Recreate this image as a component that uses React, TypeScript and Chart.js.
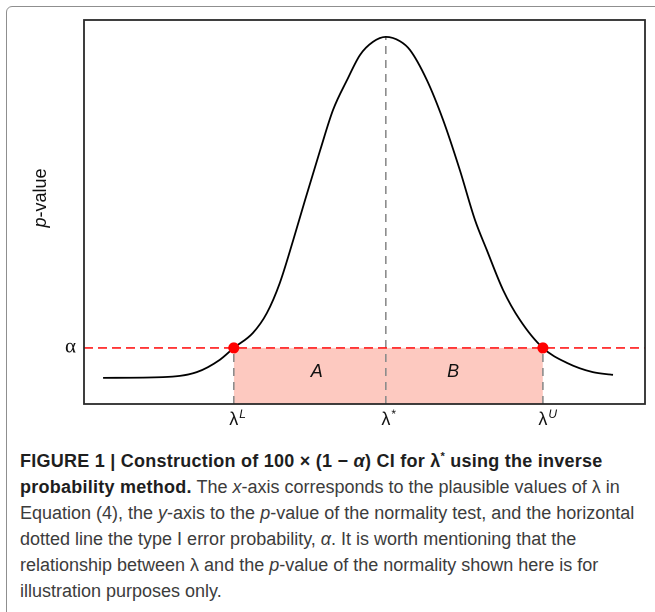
import React, { useEffect, useRef } from "react";
import { Chart, registerables } from "chart.js";

Chart.register(...registerables);

// ---- data ----
const curveX = [3.4, 14.1, 20.1, 24.2, 26.7, 30.1, 32.6, 34.9, 37.3, 39.4, 42.1, 44.4, 46.9, 49.2, 51.5, 53.8, 56.3, 58.1, 61.1, 64.0, 67.0, 69.7, 71.8, 74.7, 77.7, 81.8, 86.1, 90.7, 94.3];
const curveY = [6.8, 7.0, 8.3, 11.5, 14.6, 18.5, 23.7, 31.5, 42.7, 53.1, 66.1, 76.6, 84.4, 90.9, 94.3, 95.6, 94.5, 92.2, 84.4, 74.0, 60.9, 47.9, 40.1, 29.7, 21.9, 14.6, 10.7, 8.3, 7.6];
const alphaLevel = 14.6;
const lambdaValues = [26.7, 53.8, 81.8]; // lambda^L, lambda^*, lambda^U
const lambdaTops = [14.6, 95.6, 14.6];
const tickBase = ["λ", "λ", "λ"];
const tickSup = ["L", "*", "U"];
const yTickLabel = "α";
const regionLabels = ["A", "B"];
const regionX = [41.5, 65.8];
const regionY = [8.3, 8.3];
const xRange = [0, 100];
const yRange = [0, 100];

const SANS = "'Liberation Sans', Arial, sans-serif";

const decorPlugin = {
  id: "decor",
  afterDatasetsDraw(chart: any) {
    const { ctx, chartArea, scales } = chart;
    const xs = scales.x;
    const ys = scales.y;
    ctx.save();
    // frame
    ctx.strokeStyle = "#2a2a2a";
    ctx.lineWidth = 1.8;
    ctx.strokeRect(chartArea.left, chartArea.top, chartArea.right - chartArea.left, chartArea.bottom - chartArea.top);

    // region labels
    ctx.fillStyle = "#111";
    ctx.font = `italic 18px ${SANS}`;
    ctx.textAlign = "center";
    ctx.textBaseline = "middle";
    regionLabels.forEach((t, i) => {
      ctx.fillText(t, xs.getPixelForValue(regionX[i]), ys.getPixelForValue(regionY[i]));
    });

    // x tick labels (lambda with superscripts)
    lambdaValues.forEach((v, i) => {
      const px = xs.getPixelForValue(v);
      ctx.font = `18px ${SANS}`;
      ctx.textAlign = "center";
      ctx.textBaseline = "alphabetic";
      const w = ctx.measureText(tickBase[i]).width;
      const base = chartArea.bottom + 21;
      ctx.fillText(tickBase[i], px, base);
      ctx.font = (tickSup[i] === "*" ? "" : "italic ") + `12px ${SANS}`;
      ctx.textAlign = "left";
      ctx.fillText(tickSup[i], px + w / 2 + 1, base - 7);
    });

    // y tick label alpha
    ctx.font = `21px 'Liberation Serif', serif`;
    ctx.textAlign = "right";
    ctx.textBaseline = "middle";
    ctx.fillText(yTickLabel, chartArea.left - 8, ys.getPixelForValue(alphaLevel) - 1);

    // y axis title: p-value (p italic)
    ctx.translate(41, 198);
    ctx.rotate(-Math.PI / 2);
    ctx.textBaseline = "middle";
    ctx.textAlign = "left";
    ctx.font = `italic 18px ${SANS}`;
    const wp = ctx.measureText("p").width;
    ctx.font = `18px ${SANS}`;
    const wr = ctx.measureText("-value").width;
    const start = -(wp + wr) / 2;
    ctx.font = `italic 18px ${SANS}`;
    ctx.fillText("p", start, 0);
    ctx.font = `18px ${SANS}`;
    ctx.fillText("-value", start + wp, 0);
    ctx.restore();
  },
};

function ChartBox() {
  const ref = useRef<HTMLCanvasElement | null>(null);
  useEffect(() => {
    if (!ref.current) return;
    const curve = curveX.map((x, i) => ({ x, y: curveY[i] }));
    const verticals = lambdaValues.map((v, i) => ({
      type: "line" as const,
      data: [
        { x: v, y: yRange[0] },
        { x: v, y: lambdaTops[i] },
      ],
      borderColor: "#8c8c8c",
      borderWidth: 1.6,
      borderDash: [8, 6],
      pointRadius: 0,
      fill: false,
      order: 4,
    }));
    const chart = new Chart(ref.current, {
      type: "line",
      data: {
        datasets: [
          {
            data: [
              { x: lambdaValues[0], y: alphaLevel },
              { x: lambdaValues[2], y: alphaLevel },
            ],
            backgroundColor: "#fdc9c0",
            borderWidth: 0,
            borderColor: "rgba(0,0,0,0)",
            pointRadius: 0,
            fill: "origin",
            order: 5,
          } as any,
          ...verticals,
          {
            data: curve,
            borderColor: "#000",
            borderWidth: 1.8,
            pointRadius: 0,
            cubicInterpolationMode: "monotone",
            fill: false,
            order: 3,
          },
          {
            data: [
              { x: xRange[0], y: alphaLevel },
              { x: xRange[1], y: alphaLevel },
            ],
            borderColor: "#ff1a1a",
            borderWidth: 1.6,
            borderDash: [9, 5],
            pointRadius: 0,
            fill: false,
            order: 2,
          },
          {
            type: "scatter",
            data: [
              { x: lambdaValues[0], y: alphaLevel },
              { x: lambdaValues[2], y: alphaLevel },
            ],
            backgroundColor: "#ff0000",
            borderColor: "#ff0000",
            pointRadius: 5,
            order: 1,
          } as any,
        ],
      },
      options: {
        animation: false,
        responsive: false,
        devicePixelRatio: 2,
        layout: { padding: { left: 84, top: 20, right: 10, bottom: 36 } },
        plugins: { legend: { display: false }, tooltip: { enabled: false } },
        scales: {
          x: { type: "linear", min: xRange[0], max: xRange[1], display: false },
          y: { type: "linear", min: yRange[0], max: yRange[1], display: false },
        },
      },
      plugins: [decorPlugin],
    });
    return () => chart.destroy();
  }, []);
  return (
    <canvas
      ref={ref}
      width={655}
      height={440}
      style={{ position: "absolute", left: 0, top: 0, width: 655, height: 440 }}
    />
  );
}

const lineStyle: React.CSSProperties = {
  whiteSpace: "nowrap",
  height: 26,
  lineHeight: "26px",
};

const boldStyle: React.CSSProperties = {
  fontWeight: 700,
  color: "#1e1e1e",
  letterSpacing: "0.25px",
};

export default function App() {
  return (
    <div
      style={{
        position: "fixed",
        left: 0,
        top: 0,
        width: 655,
        height: 612,
        overflow: "hidden",
        background: "#fff",
      }}
    >
      <div
        style={{
          position: "absolute",
          left: 6,
          top: 6,
          width: 680,
          height: 640,
          border: "1.5px solid #8f8f8f",
          borderRadius: 6,
        }}
      />
      <ChartBox />
      <div
        style={{
          position: "absolute",
          left: 20,
          top: 448,
          fontFamily: SANS,
          fontSize: 18,
          color: "#3c3c3c",
        }}
      >
        <div style={{ ...lineStyle, ...boldStyle }}>
          FIGURE 1 | Construction of 100 × (1 − <i>α</i>) CI for λ
          <sup style={{ fontSize: 11, lineHeight: 0 }}>*</sup> using the inverse
        </div>
        <div style={lineStyle}>
          <b style={boldStyle}>probability method.</b> The <i>x</i>-axis corresponds to the plausible values of λ in
        </div>
        <div style={lineStyle}>
          Equation (4), the <i>y</i>-axis to the <i>p</i>-value of the normality test, and the horizontal
        </div>
        <div style={lineStyle}>
          dotted line the type I error probability, <i>α</i>. It is worth mentioning that the
        </div>
        <div style={lineStyle}>
          relationship between λ and the <i>p</i>-value of the normality shown here is for
        </div>
        <div style={lineStyle}>illustration purposes only.</div>
      </div>
    </div>
  );
}
